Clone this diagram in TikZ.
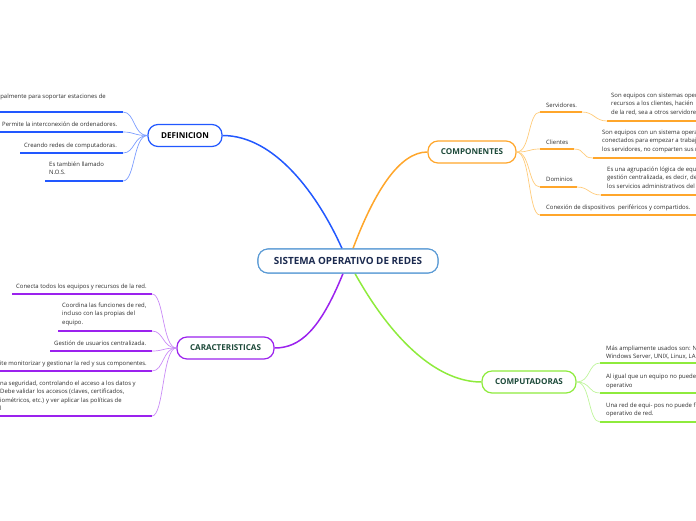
\documentclass[tikz,border=0pt]{standalone}
\usepackage{fontspec}
\setmainfont{Open Sans}
\definecolor{blueL}{HTML}{2258FF}
\definecolor{blueC}{HTML}{7C9DFF}
\definecolor{orangeL}{HTML}{FFA62B}
\definecolor{orangeC}{HTML}{FFCB7A}
\definecolor{purpleL}{HTML}{9B22EE}
\definecolor{purpleC}{HTML}{C98BF6}
\definecolor{greenL}{HTML}{8EEB3C}
\definecolor{greenC}{HTML}{BFF59B}
\definecolor{rootB}{HTML}{5B9BD5}
\definecolor{rootT}{HTML}{1B2A4F}
\definecolor{topT}{HTML}{1D4A3A}
\definecolor{leafT}{HTML}{2B2B2B}
\begin{document}
\begin{tikzpicture}[x=1pt,y=-1pt,
  root/.style={draw=rootB,line width=1.1pt,fill=white,rounded corners=10pt,minimum width=180pt,minimum height=24pt,inner sep=0pt,text=rootT,font=\fontsize{9.9}{11}\selectfont\bfseries},
  topic/.style={line width=1.2pt,fill=white,rounded corners=10pt,minimum height=22pt,inner sep=0pt,text=topT,font=\fontsize{8.1}{9}\selectfont\bfseries},
  leaf/.style={inner sep=0pt,text=leafT,font=\fontsize{5.95}{8.5}\selectfont},
  mline/.style={line width=1.5pt},
  uline/.style={line width=1.8pt},
  cline/.style={line width=0.7pt}
]
\useasboundingbox (0,0) rectangle (696,520);
\clip (0,0) rectangle (696,520);

% main nodes
\node[root] (root) at (348,261) {SISTEMA OPERATIVO DE REDES};
\node[topic,draw=blueL,minimum width=74pt,text=black] (def) at (185,135.5) {DEFINICION};
\node[topic,draw=orangeL,minimum width=88pt] (comp) at (472,152) {COMPONENTES};
\node[topic,draw=purpleL,minimum width=97pt] (car) at (225.5,348) {CARACTERISTICAS};
\node[topic,draw=greenL,minimum width=94pt] (compu) at (529,382) {COMPUTADORAS};

% main connectors
\draw[mline,blueL] ([xshift=-6pt]root.north) .. controls (318,195) and (275,135.5) .. (def.east);
\draw[mline,orangeL] ([xshift=5pt]root.north) .. controls (375,190) and (400,152) .. (comp.west);
\draw[mline,purpleL] ([xshift=-5pt]root.south) .. controls (320,330) and (300,348) .. (car.east);
\draw[mline,greenL] ([xshift=7pt]root.south) .. controls (395,345) and (440,382) .. (compu.west);

% ---------- DEFINICION leaves
\coordinate (d1s) at (0,112);  \coordinate (d1e) at (123,112);
\coordinate (d2s) at (0,132);  \coordinate (d2e) at (123,132);
\coordinate (d3s) at (20,153); \coordinate (d3e) at (123,153);
\coordinate (d4s) at (45,181); \coordinate (d4e) at (123,181);
\node[leaf,anchor=east] (dt1) at (106,97) {palmente para soportar estaciones de};
\node[leaf,anchor=west] (dt2) at (2,124.5) {Permite la interconexión de ordenadores.};
\node[leaf,anchor=west] (dt3) at (24,145.5) {Creando redes de computadoras.};
\node[leaf,anchor=north west,align=left] (dt4) at (49,161.5) {Es también llamado\\N.O.S.};
\foreach \i in {1,2,3,4}{
  \draw[uline,blueL] (d\i s) -- (d\i e);
  \draw[cline,blueC] (def.west) .. controls +(-14,0) and +(12,0) .. (d\i e);
}

% ---------- COMPONENTES leaves
\coordinate (c1s) at (540,112); \coordinate (c1e) at (582,112);
\coordinate (c2s) at (540,149); \coordinate (c2e) at (574,149);
\coordinate (c3s) at (540,187); \coordinate (c3e) at (577,187);
\coordinate (c4s) at (540,215); \coordinate (c4e) at (696,215);
\coordinate (e1s) at (607,121); \coordinate (e1e) at (696,121);
\coordinate (e2s) at (593,158); \coordinate (e2e) at (696,158);
\coordinate (e3s) at (601,195); \coordinate (e3e) at (696,195);
\node[leaf,anchor=west] (ct1) at (546,105) {Servidores.};
\node[leaf,anchor=west] (ct2) at (546,142) {Clientes};
\node[leaf,anchor=west] (ct3) at (546,179.5) {Dominios};
\node[leaf,anchor=west] (ct4) at (546,207.5) {Conexión de dispositivos \ periféricos y compartidos.};
\node[leaf,anchor=north west,align=left] (et1) at (611,92.5) {Son equipos con sistemas opera\\recursos a los clientes, hacién\\de la red, sea a otros servidore};
\node[leaf,anchor=north west,align=left] (et2) at (602,129.5) {Son equipos con un sistema opera\\conectados para empezar a trabaj\\los servidores, no comparten sus r};
\node[leaf,anchor=north west,align=left] (et3) at (607,166.5) {Es una agrupación lógica de equ\\gestión centralizada, es decir, de\\los servicios administrativos del};
\foreach \i in {1,2,3,4}{
  \draw[uline,orangeL] (c\i s) -- (c\i e);
  \draw[cline,orangeC] (comp.east) .. controls +(14,0) and +(-12,0) .. (c\i s);
}
\foreach \i in {1,2,3}{
  \draw[uline,orangeL] (e\i s) -- (e\i e);
  \draw[cline,orangeC] (c\i e) .. controls +(12,0) and +(-12,0) .. (e\i s);
}

% ---------- CARACTERISTICAS leaves
\coordinate (k1s) at (12,294);  \coordinate (k1e) at (152,294);
\coordinate (k2s) at (58,331);  \coordinate (k2e) at (152,331);
\coordinate (k3s) at (50,351);  \coordinate (k3e) at (152,351);
\coordinate (k4s) at (0,371);   \coordinate (k4e) at (152,371);
\coordinate (k5s) at (0,416);   \coordinate (k5e) at (152,416);
\node[leaf,anchor=west] (kt1) at (16,287) {Conecta todos los equipos y recursos de la red.};
\node[leaf,anchor=north west,align=left] (kt2) at (62,302.5) {Coordina las funciones de red,\\incluso con las propias del\\equipo.};
\node[leaf,anchor=west] (kt3) at (54,343.5) {Gestión de usuarios centralizada.};
\node[leaf,anchor=east] (kt4) at (147,364) {ite monitorizar y gestionar la red y sus componentes.};
\node[leaf,anchor=north west,align=left] (kt5) at (0,380.5) {na seguridad, controlando el acceso a los datos y\\Debe validar los accesos (claves, certificados,\\iométricos, etc.) y ver aplicar las políticas de\\l};
\foreach \i in {1,2,3,4,5}{
  \draw[uline,purpleL] (k\i s) -- (k\i e);
  \draw[cline,purpleC] (car.west) .. controls +(-14,0) and +(12,0) .. (k\i e);
}

% ---------- COMPUTADORAS leaves
\coordinate (p1s) at (600,363); \coordinate (p1e) at (696,363);
\coordinate (p2s) at (600,393); \coordinate (p2e) at (696,393);
\coordinate (p3s) at (600,422); \coordinate (p3e) at (696,422);
\node[leaf,anchor=north west,align=left] (pt1) at (606,345.5) {Más ampliamente usados son: N\\Windows Server, UNIX, Linux, LA};
\node[leaf,anchor=north west,align=left] (pt2) at (606,374) {Al igual que un equipo no puede\\operativo};
\node[leaf,anchor=north west,align=left] (pt3) at (606,402.5) {Una red de equi- pos no puede f\\operativo de red.};
\foreach \i in {1,2,3}{
  \draw[uline,greenL] (p\i s) -- (p\i e);
  \draw[cline,greenC] (compu.east) .. controls +(14,0) and +(-12,0) .. (p\i s);
}

% redraw root on top of connectors
\node[root] at (root) {SISTEMA OPERATIVO DE REDES};
\end{tikzpicture}
\end{document}
